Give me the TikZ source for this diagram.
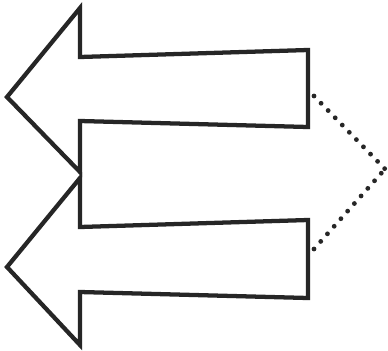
\documentclass[tikz,border=0pt]{standalone}
\begin{document}
\begin{tikzpicture}[x=0.75pt,y=-0.75pt,
  arrowshape/.style={draw=black!85, line width=3.2pt, line join=miter, fill=white},
  dotline/.style={draw=black!85, line width=3.6pt, line cap=round, dash pattern=on 0pt off 7.6pt}]
\fill[white] (0,0) rectangle (388,350);
\useasboundingbox (0,0) rectangle (388,350);
% upper arrow
\draw[arrowshape] (7,97) -- (80,8) -- (80,57) -- (308,50) -- (308,127) -- (80,121) -- (80,172) -- cycle;
% lower arrow
\draw[arrowshape] (7,267) -- (80,178) -- (80,227) -- (308,220) -- (308,298) -- (80,292) -- (80,345) -- cycle;
% dotted connectors
\coordinate (upper) at (314,96);
\coordinate (lower) at (314,249);
\coordinate (apex) at (385,169);
\draw[dotline] (upper) -- (apex);
\draw[dotline] (lower) -- (apex);
\end{tikzpicture}
\end{document}
